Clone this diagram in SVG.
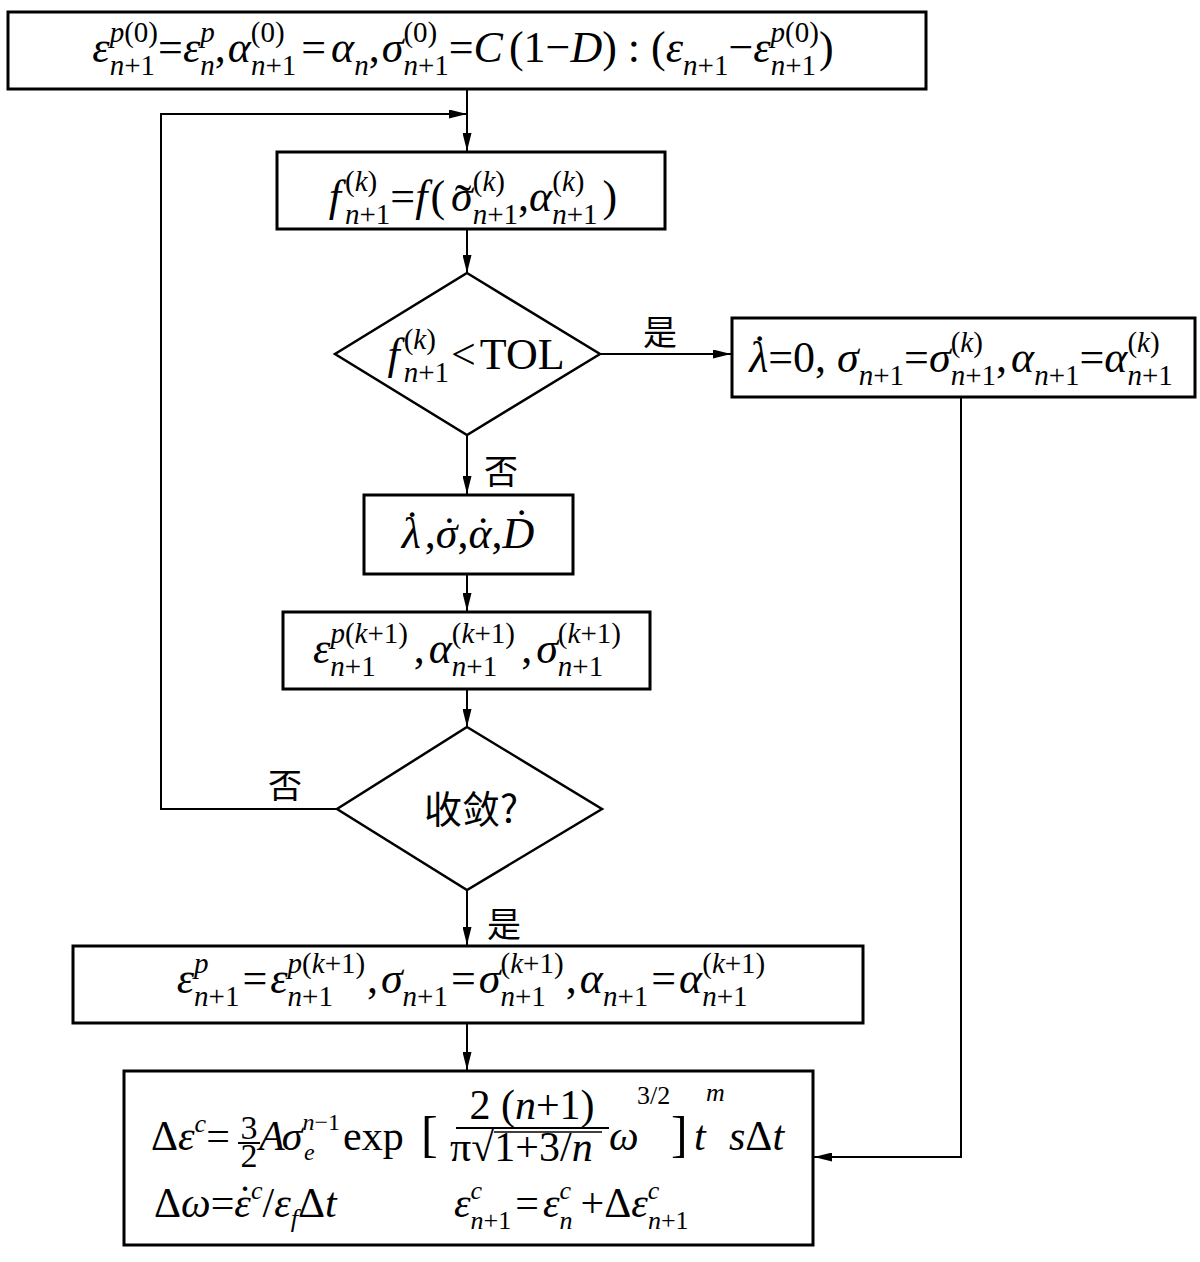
<svg xmlns="http://www.w3.org/2000/svg" width="1200" height="1262" viewBox="0 0 1200 1262">
<style>
.box{fill:#fff;stroke:#000;stroke-width:3}
.dia{fill:#fff;stroke:#000;stroke-width:2.5}
.ln{fill:none;stroke:#000;stroke-width:2}
.f{font-family:"Liberation Serif","Times New Roman",serif;font-size:44px;fill:#000}
.i{font-style:italic}
.s{font-size:29px}
.t{font-size:26px}
.u{font-size:24px}
.cjk{font-family:"Noto Sans CJK SC","Noto Sans CJK JP",sans-serif;font-size:34px;fill:#000}
</style>
<defs>
<marker id="ah" viewBox="0 0 18 9" refX="18" refY="4.5" markerWidth="18" markerHeight="9" markerUnits="userSpaceOnUse" orient="auto"><path d="M0,0 L18,4.5 L0,9 z" fill="#000"/></marker>
</defs>
<rect width="1200" height="1262" fill="#fff"/>

<g id="connectors">
<path class="ln" d="M467,90 V151" marker-end="url(#ah)"/>
<path class="ln" d="M337,809 H161 V114 H467" marker-end="url(#ah)"/>
<path class="ln" d="M467,229 V273" marker-end="url(#ah)"/>
<path class="ln" d="M600,354 H731" marker-end="url(#ah)"/>
<path class="ln" d="M961,397 V1157 H814" marker-end="url(#ah)"/>
<path class="ln" d="M467,435 V494" marker-end="url(#ah)"/>
<path class="ln" d="M467,574 V611" marker-end="url(#ah)"/>
<path class="ln" d="M467,689 V727" marker-end="url(#ah)"/>
<path class="ln" d="M467,890 V945" marker-end="url(#ah)"/>
<path class="ln" d="M467,1023 V1070" marker-end="url(#ah)"/>
<text class="cjk" x="660" y="345" text-anchor="middle">是</text>
<text class="cjk" x="501" y="484" text-anchor="middle">否</text>
<text class="cjk" x="285" y="798" text-anchor="middle">否</text>
<text class="cjk" x="504" y="937" text-anchor="middle">是</text>
</g>

<g id="init">
<rect class="box" x="8" y="12" width="918" height="77"/>
<text class="f" x="463" y="62" text-anchor="middle"><tspan class="i">ε</tspan><tspan class="s i" dy="-20">p</tspan><tspan class="s">(0)</tspan><tspan class="s i" dx="-48.3" dy="33">n</tspan><tspan class="s">+1</tspan><tspan dx="3" dy="-13">=</tspan><tspan class="i">ε</tspan><tspan class="s i" dy="-20">p</tspan><tspan class="s i" dx="-14.5" dy="33">n</tspan><tspan dy="-13">,</tspan><tspan class="i" dx="2">α</tspan><tspan class="s" dy="-20">(0)</tspan><tspan class="s i" dx="-33.8" dy="33">n</tspan><tspan class="s">+1</tspan><tspan dx="5" dy="-13">=</tspan><tspan class="i" dx="5">α</tspan><tspan class="s i" dy="13">n</tspan><tspan dy="-13">,</tspan><tspan class="i" dx="2">σ</tspan><tspan class="s" dy="-20">(0)</tspan><tspan class="s i" dx="-33.8" dy="33">n</tspan><tspan class="s">+1</tspan><tspan dy="-13">=</tspan><tspan class="i">C</tspan><tspan dx="6">(1−</tspan><tspan class="i">D</tspan><tspan>) : (</tspan><tspan class="i">ε</tspan><tspan class="s i" dy="13">n</tspan><tspan class="s">+1</tspan><tspan dy="-13">−</tspan><tspan class="i">ε</tspan><tspan class="s i" dy="-20">p</tspan><tspan class="s">(0)</tspan><tspan class="s i" dx="-48.3" dy="33">n</tspan><tspan class="s">+1</tspan><tspan dx="3" dy="-13">)</tspan></text>
</g>

<g id="yield">
<rect class="box" x="277" y="152" width="388" height="77"/>
<text class="f" x="473" y="211" text-anchor="middle"><tspan class="i">f</tspan><tspan class="s" dx="4" dy="-20">(</tspan><tspan class="s i">k</tspan><tspan class="s">)</tspan><tspan class="s i" dx="-32.2" dy="33">n</tspan><tspan class="s">+1</tspan><tspan dy="-13">=</tspan><tspan class="i">f</tspan><tspan dx="3">(</tspan><tspan class="i" dx="6">σ</tspan><tspan style="font-size:50px" dx="-18" dy="8">˜</tspan><tspan class="s" dx="1.3" dy="-28">(</tspan><tspan class="s i">k</tspan><tspan class="s">)</tspan><tspan class="s i" dx="-32.2" dy="33">n</tspan><tspan class="s">+1</tspan><tspan dy="-13">,</tspan><tspan class="i">α</tspan><tspan class="s" dy="-20">(</tspan><tspan class="s i">k</tspan><tspan class="s">)</tspan><tspan class="s i" dx="-32.2" dy="33">n</tspan><tspan class="s">+1</tspan><tspan dx="5" dy="-13">)</tspan></text>
</g>

<g id="check">
<polygon class="dia" points="467,273 600,354 467,435 335,354"/>
<text class="f" x="476" y="369" text-anchor="middle"><tspan class="i">f</tspan><tspan class="s" dx="4" dy="-20">(</tspan><tspan class="s i">k</tspan><tspan class="s">)</tspan><tspan class="s i" dx="-32.2" dy="33">n</tspan><tspan class="s">+1</tspan><tspan dx="2" dy="-13">&lt;</tspan><tspan dx="4">TOL</tspan></text>
</g>

<g id="elastic">
<rect class="box" x="732" y="318" width="463" height="79"/>
<text class="f" x="961" y="372" text-anchor="middle"><tspan class="i">λ</tspan><tspan dx="-16" dy="-6">˙</tspan><tspan dx="1.3" dy="6">=0, </tspan><tspan class="i">σ</tspan><tspan class="s i" dy="13">n</tspan><tspan class="s">+1</tspan><tspan dy="-13">=</tspan><tspan class="i">σ</tspan><tspan class="s" dy="-20">(</tspan><tspan class="s i">k</tspan><tspan class="s">)</tspan><tspan class="s i" dx="-32.2" dy="33">n</tspan><tspan class="s">+1</tspan><tspan dy="-13">,</tspan><tspan class="i" dx="4">α</tspan><tspan class="s i" dy="13">n</tspan><tspan class="s">+1</tspan><tspan dy="-13">=</tspan><tspan class="i">α</tspan><tspan class="s" dy="-20">(</tspan><tspan class="s i">k</tspan><tspan class="s">)</tspan><tspan class="s i" dx="-32.2" dy="33">n</tspan><tspan class="s">+1</tspan></text>
</g>

<g id="rates">
<rect class="box" x="364" y="495" width="209" height="79"/>
<text class="f" x="468" y="548" text-anchor="middle"><tspan class="i">λ</tspan><tspan dx="-16" dy="-6">˙</tspan><tspan dx="5.3" dy="6">,</tspan><tspan class="i">σ</tspan><tspan dx="-15.4">˙</tspan><tspan dx="0.7">,</tspan><tspan class="i">α</tspan><tspan dx="-15.9">˙</tspan><tspan dx="1.2">,</tspan><tspan class="i">D</tspan><tspan dx="-20" dy="-8">˙</tspan><tspan dx="5.3" dy="8"> </tspan></text>
</g>

<g id="update">
<rect class="box" x="283" y="612" width="367" height="77"/>
<text class="f" x="467" y="663" text-anchor="middle"><tspan class="i">ε</tspan><tspan class="s i" dy="-20">p</tspan><tspan class="s">(</tspan><tspan class="s i">k</tspan><tspan class="s">+1)</tspan><tspan class="s i" dx="-77.6" dy="33">n</tspan><tspan class="s">+1</tspan><tspan dx="38" dy="-13">,</tspan><tspan class="i" dx="4">α</tspan><tspan class="s" dy="-20">(</tspan><tspan class="s i">k</tspan><tspan class="s">+1)</tspan><tspan class="s i" dx="-63.1" dy="33">n</tspan><tspan class="s">+1</tspan><tspan dx="24" dy="-13">,</tspan><tspan class="i" dx="4">σ</tspan><tspan class="s" dy="-20">(</tspan><tspan class="s i">k</tspan><tspan class="s">+1)</tspan><tspan class="s i" dx="-63.1" dy="33">n</tspan><tspan class="s">+1</tspan></text>
</g>

<g id="converge">
<polygon class="dia" points="467,727 602,809 467,890 337,809"/>
<text class="cjk" x="471" y="823" text-anchor="middle" style="font-size:38px">收敛?</text>
</g>

<g id="accept">
<rect class="box" x="73" y="946" width="790" height="77"/>
<text class="f" x="471" y="993" text-anchor="middle"><tspan class="i">ε</tspan><tspan class="s i" dy="-20">p</tspan><tspan class="s i" dx="-14.5" dy="33">n</tspan><tspan class="s">+1</tspan><tspan dx="3" dy="-13">=</tspan><tspan class="i" dx="3">ε</tspan><tspan class="s i" dy="-20">p</tspan><tspan class="s">(</tspan><tspan class="s i">k</tspan><tspan class="s">+1)</tspan><tspan class="s i" dx="-77.6" dy="33">n</tspan><tspan class="s">+1</tspan><tspan dx="34" dy="-13">,</tspan><tspan class="i" dx="3">σ</tspan><tspan class="s i" dy="13">n</tspan><tspan class="s">+1</tspan><tspan dx="3" dy="-13">=</tspan><tspan class="i" dx="3">σ</tspan><tspan class="s" dy="-20">(</tspan><tspan class="s i">k</tspan><tspan class="s">+1)</tspan><tspan class="s i" dx="-63.1" dy="33">n</tspan><tspan class="s">+1</tspan><tspan dx="20" dy="-13">,</tspan><tspan class="i" dx="3">α</tspan><tspan class="s i" dy="13">n</tspan><tspan class="s">+1</tspan><tspan dx="3" dy="-13">=</tspan><tspan class="i" dx="3">α</tspan><tspan class="s" dy="-20">(</tspan><tspan class="s i">k</tspan><tspan class="s">+1)</tspan><tspan class="s i" dx="-63.1" dy="33">n</tspan><tspan class="s">+1</tspan></text>
</g>

<g id="creep">
<rect class="box" x="124" y="1071" width="689" height="174"/>
<line x1="238" y1="1143" x2="260" y2="1143" stroke="#000" stroke-width="2"/>
<line x1="456" y1="1128" x2="609" y2="1128" stroke="#000" stroke-width="2"/>
<line x1="494" y1="1132" x2="602" y2="1132" stroke="#000" stroke-width="1.6"/>
<text class="f" style="font-size:42px"><tspan x="151" y="1150">Δ</tspan><tspan class="i">ε</tspan><tspan class="t i" dy="-18">c</tspan><tspan dy="18">=</tspan><tspan x="249" y="1139" text-anchor="middle" style="font-size:34px">3</tspan><tspan x="249" y="1167" text-anchor="middle" style="font-size:34px">2</tspan><tspan x="259" y="1150" class="i">A</tspan><tspan class="i" dx="-3">σ</tspan><tspan class="u i" dy="-20">n</tspan><tspan class="u">−1</tspan><tspan class="u i" dx="-36" dy="30">e</tspan><tspan x="343" y="1150">exp</tspan><tspan x="421" y="1151" style="font-size:50px">[</tspan><tspan x="532" y="1119" text-anchor="middle">2 (<tspan class="i">n</tspan>+1)</tspan><tspan x="450" y="1161">π</tspan><tspan>√</tspan><tspan>1+3/</tspan><tspan class="i">n</tspan><tspan x="609" y="1150" class="i">ω</tspan><tspan x="637" y="1104" class="t">3/2</tspan><tspan x="671" y="1151" style="font-size:50px">]</tspan><tspan x="694" y="1150" class="i">t</tspan><tspan x="706" y="1101" class="t i">m</tspan><tspan x="729" y="1150" class="i">s</tspan><tspan>Δ</tspan><tspan class="i">t</tspan></text>
<text class="f" style="font-size:42px"><tspan x="154" y="1217">Δ</tspan><tspan class="i">ω</tspan><tspan>=</tspan><tspan class="i">ε</tspan><tspan dx="-13" dy="-2">˙</tspan><tspan class="t i" dx="-1" dy="-16">c</tspan><tspan dy="18">/</tspan><tspan class="i">ε</tspan><tspan class="t i" dy="10">f</tspan><tspan dy="-10">Δ</tspan><tspan class="i">t</tspan><tspan x="454" y="1217" class="i">ε</tspan><tspan class="t i" dy="-18">c</tspan><tspan class="t i" dx="-11.5" dy="30">n</tspan><tspan class="t">+1</tspan><tspan dx="4" dy="-12">=</tspan><tspan class="i" dx="4">ε</tspan><tspan class="t i" dy="-18">c</tspan><tspan class="t i" dx="-11.5" dy="30">n</tspan><tspan dx="8" dy="-12">+Δ</tspan><tspan class="i">ε</tspan><tspan class="t i" dy="-18">c</tspan><tspan class="t i" dx="-11.5" dy="30">n</tspan><tspan class="t">+1</tspan></text>
</g>
</svg>
